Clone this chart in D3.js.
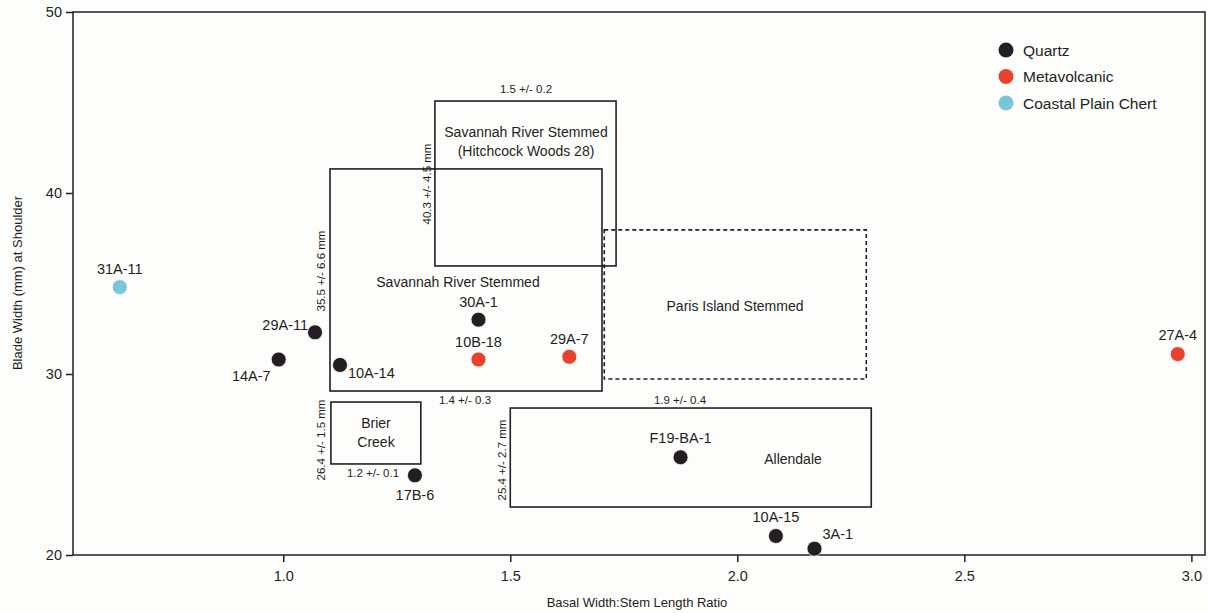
<!DOCTYPE html>
<html>
<head>
<meta charset="utf-8">
<script src="https://cdn.jsdelivr.net/npm/d3@7"></script>
<style>
  body { margin: 0; background: #fdfdfc; }
  text { font-family: "Liberation Sans", Arial, sans-serif; fill: #231f20; }
</style>
</head>
<body>
<svg id="chart" width="1209" height="613"></svg>
<script>
// specimens
var names = ["31A-11", "14A-7", "29A-11", "10A-14", "30A-1", "10B-18", "29A-7", "17B-6", "F19-BA-1", "10A-15", "3A-1", "27A-4"];
var ratio = [0.64, 0.99, 1.07, 1.125, 1.43, 1.43, 1.63, 1.29, 1.875, 2.085, 2.17, 2.97];
var blade = [34.8, 30.8, 32.3, 30.5, 33.0, 30.8, 30.95, 24.4, 25.4, 21.05, 20.35, 31.1];
var material = ["Coastal Plain Chert", "Quartz", "Quartz", "Quartz", "Quartz", "Metavolcanic", "Metavolcanic", "Quartz", "Quartz", "Quartz", "Quartz", "Metavolcanic"];
// label offset [dx, dy, anchor]
var labelPos = [[0, -13, "middle"], [-8, 21, "end"], [-7, -2, "end"], [8, 13, "start"], [0, -13, "middle"], [0, -13, "middle"], [0, -13, "middle"], [0, 25, "middle"], [0, -14, "middle"], [0, -14, "middle"], [8, -10, "start"], [0, -14, "middle"]];

var materials = ["Quartz", "Metavolcanic", "Coastal Plain Chert"];
var matColors = ["#231f20", "#e8412c", "#7ac6d8"];

// point type ranges: x0, x1, y0, y1
var types = ["Savannah River Stemmed", "Hitchcock", "Paris Island Stemmed", "Brier Creek", "Allendale"];
var typeX0 = [1.103, 1.334, 1.707, 1.105, 1.50];
var typeX1 = [1.702, 1.733, 2.284, 1.303, 2.295];
var typeY0 = [29.06, 35.97, 29.72, 25.03, 22.65];
var typeY1 = [41.33, 45.08, 37.96, 28.45, 28.12];
var typeDashed = [false, false, true, false, false];

var xTicks = [1.0, 1.5, 2.0, 2.5, 3.0];
var yTicks = [20, 30, 40, 50];

var svg = d3.select("#chart");
var x = d3.scaleLinear().domain([0.537, 3.03]).range([73, 1205]);
var y = d3.scaleLinear().domain([20, 50]).range([555, 12]);
var color = d3.scaleOrdinal().domain(materials).range(matColors);

// frame
svg.append("rect")
    .attr("x", x(0.537)).attr("y", y(50))
    .attr("width", x(3.03) - x(0.537)).attr("height", y(20) - y(50))
    .attr("fill", "none").attr("stroke", "#231f20").attr("stroke-width", 1.5);

var xAxis = svg.append("g").attr("transform", "translate(0," + y(20) + ")")
    .call(d3.axisBottom(x).tickValues(xTicks).tickFormat(d3.format(".1f")).tickSize(7).tickPadding(9));
var yAxis = svg.append("g").attr("transform", "translate(" + x(0.537) + ",0)")
    .call(d3.axisLeft(y).tickValues(yTicks).tickSize(7).tickPadding(4));
[xAxis, yAxis].forEach(function(a) {
    a.select(".domain").remove();
    a.selectAll("line").attr("stroke", "#231f20").attr("stroke-width", 1.5);
    a.selectAll("text").style("font-size", "14.5px").style("font-family", "Liberation Sans, Arial, sans-serif").attr("fill", "#231f20");
});

svg.append("text").attr("x", 637).attr("y", 607).attr("text-anchor", "middle")
    .style("font-size", "13px").text("Basal Width:Stem Length Ratio");
svg.append("text").attr("transform", "translate(22,283) rotate(-90)").attr("text-anchor", "middle")
    .style("font-size", "13px").text("Blade Width (mm) at Shoulder");

// type boxes
types.forEach(function(t, i) {
    svg.append("rect")
        .attr("x", x(typeX0[i])).attr("y", y(typeY1[i]))
        .attr("width", x(typeX1[i]) - x(typeX0[i]))
        .attr("height", y(typeY0[i]) - y(typeY1[i]))
        .attr("fill", "none").attr("stroke", "#231f20")
        .attr("stroke-width", 1.6)
        .attr("stroke-dasharray", typeDashed[i] ? "4,3" : null);
});

function label(txt, px, py, size, rot) {
    var t = svg.append("text").attr("text-anchor", "middle").style("font-size", size + "px").text(txt);
    if (rot) t.attr("transform", "translate(" + px + "," + py + ") rotate(-90)");
    else t.attr("x", px).attr("y", py);
    return t;
}
// type names
label("Savannah River Stemmed", 458, 287, 14);
label("Savannah River Stemmed", 526, 137, 14);
label("(Hitchcock Woods 28)", 526, 156, 14);
label("Paris Island Stemmed", 735, 311, 14);
label("Brier", 376, 428, 14);
label("Creek", 376, 447, 14);
label("Allendale", 793, 464, 14);
// measurements
label("1.5 +/- 0.2", 526, 93, 11.5);
label("40.3 +/- 4.5 mm", 431, 184, 11.5, true);
label("35.5 +/- 6.6 mm", 325, 271, 11.5, true);
label("1.4 +/- 0.3", 465, 404, 11.5);
label("26.4 +/- 1.5 mm", 325, 440, 11.5, true);
label("1.2 +/- 0.1", 373, 477, 11.5);
label("1.9 +/- 0.4", 680, 404, 11.5);
label("25.4 +/- 2.7 mm", 506, 460, 11.5, true);

// points
var pts = names.map(function(n, i) { return {name: n, x: ratio[i], y: blade[i], m: material[i], lp: labelPos[i]}; });
svg.selectAll("circle.pt").data(pts).enter().append("circle")
    .attr("class", "pt")
    .attr("cx", d => x(d.x)).attr("cy", d => y(d.y)).attr("r", 7.5)
    .attr("fill", d => color(d.m))
    .attr("stroke", "#fdfdfc").attr("stroke-width", 0.8);
svg.selectAll("text.pl").data(pts).enter().append("text")
    .attr("class", "pl")
    .attr("x", d => x(d.x) + d.lp[0]).attr("y", d => y(d.y) + d.lp[1])
    .attr("text-anchor", d => d.lp[2])
    .style("font-size", "14.5px")
    .text(d => d.name);

// legend
var leg = svg.append("g").attr("transform", "translate(1006,50)");
materials.forEach(function(m, i) {
    leg.append("circle").attr("cx", 0).attr("cy", i * 26.5).attr("r", 7.5).attr("fill", matColors[i]);
    leg.append("text").attr("x", 17).attr("y", i * 26.5 + 5.5).style("font-size", "15.5px").text(m);
});
</script>
</body>
</html>
